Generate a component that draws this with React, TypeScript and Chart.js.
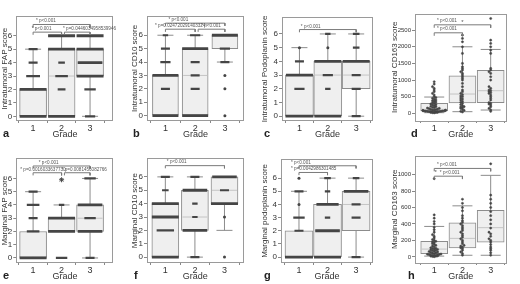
import React, { useEffect, useRef } from "react";
import { Chart, registerables } from "chart.js";
Chart.register(...registerables);

const FONT = "'Liberation Sans', Arial, sans-serif";
const BOX_EDGE = "#8c8c8c";
const BOX_FILL = "#efefef";
const MEDIAN = "#c4c4c4";
const DOT = "#454545";

const grades = [1, 2, 3];
const scoreTicks = [0, 1, 2, 3, 4, 5, 6];
const intraCd163Ticks = [0, 500, 1000, 1500, 2000, 2500];
const margCd163Ticks = [0, 200, 400, 600, 800, 1000];

// box statistics per grade: [min, q1, median, q3, max]
const statsA = [[0, 0, 0, 2, 5], [0, 0, 3, 5, 6], [0, 3, 4, 5, 6]];
const statsB = [[0, 0, 0, 3, 6], [0, 0, 3, 5, 6], [4, 5, 6, 6, 6]];
const statsC = [[0, 0, 0, 3, 5], [0, 0, 3, 4, 6], [0, 2, 3, 4, 6]];
const statsD = [[20, 70, 120, 300, 490], [50, 310, 580, 1130, 2000], [100, 320, 680, 1290, 1920]];
const statsE = [[0, 0, 0, 2, 5], [2, 2, 2, 3, 4], [0, 2, 3, 4, 6]];
const statsF = [[0, 0, 3, 4, 6], [0, 2, 3, 5, 6], [2, 4, 5, 6, 6]];
const statsG = [[0, 0, 0, 2, 5], [0, 0, 2, 4, 6], [0, 2, 4, 5, 6]];
const statsH = [[10, 40, 95, 190, 370], [20, 110, 225, 415, 620], [20, 180, 355, 565, 990]];

// score observations per grade: [score, number of cases]
const bandsA = [
  [[0, 30], [2, 20], [3, 9], [4, 5], [5, 5]],
  [[0, 22], [2, 4], [3, 8], [4, 3], [5, 20], [6, 20]],
  [[0, 6], [2, 7], [3, 20], [4, 18], [5, 20], [6, 20]],
];
const bandsB = [
  [[0, 30], [2, 5], [3, 20], [4, 6], [5, 5], [6, 2]],
  [[0, 20], [2, 5], [3, 5], [4, 5], [5, 20], [6, 6]],
  [[0, 1], [2, 1], [3, 1], [4, 5], [5, 6], [6, 22]],
];
const bandsC = [
  [[0, 30], [2, 6], [3, 20], [4, 5], [5, 1]],
  [[0, 20], [2, 2], [3, 6], [4, 20], [5, 1], [6, 2]],
  [[0, 5], [2, 5], [3, 5], [4, 20], [5, 3], [6, 3]],
];
const bandsE = [
  [[0, 30], [2, 8], [3, 5], [4, 8], [5, 5]],
  [[0, 7], [2, 20], [3, 20], [4, 2]],
  [[0, 5], [2, 18], [3, 7], [4, 18], [6, 7]],
];
const bandsF = [
  [[0, 30], [2, 12], [3, 25], [4, 20], [5, 3], [6, 5]],
  [[0, 5], [2, 18], [3, 2], [4, 2], [5, 18], [6, 5]],
  [[0, 1], [3, 1], [4, 20], [5, 5], [6, 18]],
];
const bandsG = [
  [[0, 30], [2, 5], [3, 7], [4, 1], [5, 5], [6, 1]],
  [[0, 20], [2, 18], [3, 2], [4, 16], [5, 2], [6, 3]],
  [[0, 5], [3, 5], [4, 5], [5, 18], [6, 3]],
];
// extreme outliers (grade, score)
const extremesE = [[2, 5.9]];

// CD163 continuous observations per grade
const valuesD = [
  [15, 20, 25, 30, 30, 35, 40, 40, 45, 50, 50, 55, 60, 60, 65, 70, 70, 75, 80, 85, 90, 95, 100, 100, 110, 120, 130, 140, 150, 160, 170, 180, 200, 210, 230, 250, 260, 280, 300, 320, 340, 360, 380, 400, 420, 450, 470, 500, 550, 600, 650, 700, 750, 800, 880, 950],
  [40, 60, 90, 120, 150, 170, 190, 200, 230, 260, 300, 330, 360, 400, 430, 460, 500, 520, 560, 600, 650, 700, 800, 900, 1000, 1050, 1100, 1150, 1200, 1250, 1300, 1350, 1400, 1500, 1800, 2000, 2150, 2250, 2350],
  [60, 100, 150, 200, 250, 280, 300, 320, 400, 450, 500, 550, 600, 620, 650, 680, 700, 750, 800, 1000, 1100, 1200, 1250, 1300, 1350, 1800, 1900, 2000, 2100, 2200, 2850],
];
const valuesH = [
  [3, 5, 8, 10, 12, 15, 18, 20, 22, 25, 28, 30, 32, 35, 40, 45, 50, 55, 60, 65, 70, 75, 80, 85, 90, 95, 100, 105, 110, 120, 130, 140, 150, 160, 170, 180, 190, 200, 210, 230, 250, 270, 300, 330, 360, 400, 430, 470, 510, 950],
  [20, 40, 60, 80, 100, 110, 120, 130, 140, 160, 180, 200, 220, 240, 260, 280, 300, 320, 340, 360, 380, 400, 420, 440, 470, 500, 560, 600, 650, 700],
  [20, 50, 80, 100, 120, 150, 180, 200, 220, 250, 280, 300, 350, 400, 450, 500, 550, 600, 650, 700, 750, 1130],
];

type Bracket = { x1: number; x2: number; y: number; drop: number };
type Note = { x: number; y: number; text: string; align?: CanvasTextAlign };

const bracketsA: Bracket[] = [{ x1: 1, x2: 3, y: 6.84, drop: 0.25 }, { x1: 1, x2: 2, y: 6.27, drop: 0.2 }, { x1: 2.1, x2: 3, y: 6.27, drop: 0.2 }];
const notesA: Note[] = [{ x: 1.1, y: 7.09, text: "* p<0.001" }, { x: 0.95, y: 6.52, text: "* p<0.001" }, { x: 2.05, y: 6.52, text: "* p=0.0446034958539946" }];
const bracketsB: Bracket[] = [{ x1: 1, x2: 3, y: 6.9, drop: 0.2 }, { x1: 1, x2: 2, y: 6.45, drop: 0.2 }, { x1: 2.1, x2: 3, y: 6.45, drop: 0.2 }];
const notesB: Note[] = [{ x: 1.1, y: 7.15, text: "* p<0.001" }, { x: 0.65, y: 6.68, text: "* p=0.024720291403324" }, { x: 2.2, y: 6.68, text: "* p<0.001" }];
const bracketsC: Bracket[] = [{ x1: 1, x2: 3, y: 6.32, drop: 0.2 }];
const notesC: Note[] = [{ x: 1.05, y: 6.55, text: "* p<0.001" }];
const bracketsD: Bracket[] = [{ x1: 1, x2: 3, y: 2660, drop: 90 }, { x1: 1, x2: 2, y: 2420, drop: 90 }];
const notesD: Note[] = [{ x: 1.1, y: 2770, text: "* p<0.001" }, { x: 2, y: 2720, text: "*", align: "center" }, { x: 1.1, y: 2530, text: "* p<0.001" }];
const bracketsE: Bracket[] = [{ x1: 1, x2: 3, y: 6.94, drop: 0.2 }, { x1: 1, x2: 2, y: 6.43, drop: 0.2 }, { x1: 2.1, x2: 3, y: 6.43, drop: 0.2 }];
const notesE: Note[] = [{ x: 1.2, y: 7.2, text: "* p<0.001" }, { x: 0.55, y: 6.69, text: "* p=0.0016033637730" }, { x: 2.0, y: 6.69, text: "* p=0.0081456082766" }];
const bracketsF: Bracket[] = [{ x1: 1, x2: 3, y: 6.84, drop: 0.2 }];
const notesF: Note[] = [{ x: 1.05, y: 7.1, text: "* p<0.001" }];
const bracketsG: Bracket[] = [{ x1: 1, x2: 3, y: 6.94, drop: 0.2 }, { x1: 1, x2: 2, y: 6.43, drop: 0.2 }];
const notesG: Note[] = [{ x: 0.72, y: 7.2, text: "* p<0.001" }, { x: 0.72, y: 6.69, text: "* p=0.0042986301485" }];
const bracketsH: Bracket[] = [{ x1: 1, x2: 3, y: 1074, drop: 35 }, { x1: 1, x2: 2, y: 980, drop: 35 }];
const notesH: Note[] = [{ x: 1.1, y: 1116, text: "* p<0.001" }, { x: 1.05, y: 1025, text: "*", align: "center" }, { x: 1.2, y: 1020, text: "* p<0.001" }];

type Panel = {
  letter: string; left: number; top: number; letterX: number;
  yTitle: string; yMin: number; yMax: number; yTicks: number[];
  xMin: number; xMax: number; axisW: number; padRight: number;
  boxW: number; tickFont: number; capR: number;
  stats: number[][]; bands?: number[][][]; values?: number[][]; extremes?: number[][];
  brackets: Bracket[]; notes: Note[];
};

const panels: Panel[] = [
  { letter: "a", left: 0, top: 0, letterX: 3, yTitle: "Intratumoral FAP score", yMin: -0.35, yMax: 7.45, yTicks: scoreTicks, xMin: 0.41, xMax: 3.83, axisW: 16, padRight: 1, boxW: 27, tickFont: 8, capR: 8, stats: statsA, bands: bandsA, brackets: bracketsA, notes: notesA },
  { letter: "b", left: 130, top: 0, letterX: 3, yTitle: "Intratumoral CD10 score", yMin: -0.4, yMax: 7.45, yTicks: scoreTicks, xMin: 0.38, xMax: 3.65, axisW: 17, padRight: 2, boxW: 26, tickFont: 8, capR: 8, stats: statsB, bands: bandsB, brackets: bracketsB, notes: notesB },
  { letter: "c", left: 260, top: 0, letterX: 4, yTitle: "Intratumoral Podoplanin score", yMin: -0.35, yMax: 7.25, yTicks: scoreTicks, xMin: 0.385, xMax: 3.6, axisW: 22, padRight: 1, boxW: 28, tickFont: 8, capR: 8, stats: statsC, bands: bandsC, brackets: bracketsC, notes: notesC },
  { letter: "d", left: 390, top: 0, letterX: 21, yTitle: "Intratumoral CD163 score", yMin: -230, yMax: 3000, yTicks: intraCd163Ticks, xMin: 0.32, xMax: 3.56, axisW: 25, padRight: 2, boxW: 27, tickFont: 6, capR: 10, stats: statsD, values: valuesD, brackets: bracketsD, notes: notesD },
  { letter: "e", left: 0, top: 142, letterX: 3, yTitle: "Marginal FAP score", yMin: -0.38, yMax: 7.52, yTicks: scoreTicks, xMin: 0.41, xMax: 3.83, axisW: 16, padRight: 1, boxW: 27, tickFont: 8, capR: 8, stats: statsE, bands: bandsE, extremes: extremesE, brackets: bracketsE, notes: notesE },
  { letter: "f", left: 130, top: 142, letterX: 4, yTitle: "Marginal CD10 score", yMin: -0.44, yMax: 7.39, yTicks: scoreTicks, xMin: 0.38, xMax: 3.65, axisW: 17, padRight: 2, boxW: 27, tickFont: 8, capR: 8, stats: statsF, bands: bandsF, brackets: bracketsF, notes: notesF },
  { letter: "g", left: 260, top: 142, letterX: 4, yTitle: "Marginal podoplanin score", yMin: -0.45, yMax: 7.47, yTicks: scoreTicks, xMin: 0.37, xMax: 3.6, axisW: 21, padRight: 2, boxW: 28, tickFont: 8, capR: 8, stats: statsG, bands: bandsG, brackets: bracketsG, notes: notesG },
  { letter: "h", left: 390, top: 142, letterX: 18, yTitle: "Marginal CD163 score", yMin: -74, yMax: 1231, yTicks: margCd163Ticks, xMin: 0.32, xMax: 3.56, axisW: 25, padRight: 2, boxW: 27, tickFont: 6, capR: 10, stats: statsH, values: valuesH, brackets: bracketsH, notes: notesH },
];

function swarm(values: number[], g: number, bin: number) {
  const counts = new Map<number, number>();
  return [...values].sort((a, b) => a - b).map((v) => {
    const b = Math.round(v / bin);
    const k = counts.get(b) ?? 0;
    counts.set(b, k + 1);
    const off = k === 0 ? 0 : (k % 2 ? -1 : 1) * Math.ceil(k / 2) * 0.06;
    return { x: g + Math.max(-0.4, Math.min(0.4, off)), y: v };
  });
}

function buildDatasets(p: Panel): any[] {
  const ds: any[] = [];
  const wh: any[] = [];
  p.stats.forEach((s, i) => {
    const g = grades[i];
    wh.push({ x: g, y: s[0] }, { x: g, y: s[4] }, { x: g, y: null });
  });
  ds.push({ type: "line", data: wh, borderColor: BOX_EDGE, borderWidth: 1, pointRadius: 0, spanGaps: false, order: 6 });
  const caps: any[] = [];
  p.stats.forEach((s, i) => {
    const g = grades[i];
    if (s[0] < s[1]) caps.push({ x: g, y: s[0] });
    if (s[4] > s[3]) caps.push({ x: g, y: s[4] });
  });
  ds.push({ type: "line", showLine: false, data: caps, pointStyle: "line", pointRadius: p.capR, pointBorderColor: BOX_EDGE, pointBorderWidth: 1, order: 5 });
  ds.push({
    type: "bar",
    data: p.stats.map((s, i) => ({ x: grades[i], y: [s[1], s[3]] })),
    backgroundColor: BOX_FILL, borderColor: BOX_EDGE, borderWidth: 1, borderSkipped: false,
    barThickness: p.boxW, order: 4,
  });
  ds.push({
    type: "line", showLine: false,
    data: p.stats.map((s, i) => ({ x: grades[i], y: s[2] })),
    pointStyle: "line", pointRadius: p.boxW / 2 - 1, pointBorderColor: MEDIAN, pointBorderWidth: 1, order: 3,
  });
  if (p.bands) {
    const data: any[] = [], style: any[] = [], radius: number[] = [], bw: number[] = [];
    p.bands.forEach((list, i) => {
      list.forEach(([score, count]) => {
        data.push({ x: grades[i], y: score });
        if (count <= 1) { style.push("circle"); radius.push(1.5); bw.push(0); }
        else {
          style.push("line");
          radius.push(Math.min(p.boxW / 2, 1.5 + count * 0.6));
          bw.push(count >= 15 ? 2.8 : 2.2);
        }
      });
    });
    ds.push({ type: "line", showLine: false, data, pointStyle: style, pointRadius: radius, pointBorderWidth: bw, pointBorderColor: DOT, pointBackgroundColor: DOT, order: 1 });
  }
  if (p.extremes) {
    ds.push({ type: "line", showLine: false, data: p.extremes.map(([g, v]) => ({ x: g, y: v })), pointStyle: "star", pointRadius: 2.5, pointBorderWidth: 1, pointBorderColor: DOT, order: 1 });
  }
  if (p.values) {
    const bin = (p.yMax - p.yMin) * 0.02;
    const data: any[] = [];
    p.values.forEach((vals, i) => data.push(...swarm(vals, grades[i], bin)));
    ds.push({ type: "line", showLine: false, data, pointStyle: "circle", pointRadius: 1.1, pointBorderWidth: 0.5, pointBorderColor: DOT, pointBackgroundColor: DOT, order: 1 });
  }
  p.brackets.forEach((b) => {
    ds.push({
      type: "line",
      data: [{ x: b.x1, y: b.y - b.drop }, { x: b.x1, y: b.y }, { x: b.x2, y: b.y }, { x: b.x2, y: b.y - b.drop }],
      borderColor: "#7a7a7a", borderWidth: 1, pointRadius: 0, order: 0, clip: false,
    });
  });
  return ds;
}

const framePlugin = {
  id: "frame",
  beforeDatasetsDraw(chart: any) {
    const { ctx, chartArea: a } = chart;
    ctx.save();
    ctx.strokeStyle = "#9a9a9a";
    ctx.lineWidth = 1;
    ctx.strokeRect(Math.round(a.left) + 0.5, Math.round(a.top) + 0.5, Math.round(a.right - a.left) - 1, Math.round(a.bottom - a.top) - 1);
    ctx.restore();
  },
};

function notesPlugin(notes: Note[]) {
  return {
    id: "notes",
    afterDatasetsDraw(chart: any) {
      const { ctx } = chart;
      const xs = chart.scales.x, ys = chart.scales.y;
      ctx.save();
      ctx.fillStyle = "#555";
      ctx.textBaseline = "middle";
      notes.forEach((n) => {
        ctx.font = n.text === "*" ? `6px ${FONT}` : `4.6px ${FONT}`;
        ctx.textAlign = n.align ?? "left";
        ctx.fillText(n.text, xs.getPixelForValue(n.x), ys.getPixelForValue(n.y));
      });
      ctx.restore();
    },
  };
}

function makeConfig(p: Panel): any {
  return {
    type: "bar",
    data: { datasets: buildDatasets(p) },
    options: {
      animation: false, responsive: false, devicePixelRatio: 1, events: [],
      layout: { padding: { top: 1, right: p.padRight, bottom: 2, left: 0 } },
      plugins: { legend: { display: false }, tooltip: { enabled: false } },
      scales: {
        x: {
          type: "linear", min: p.xMin, max: p.xMax, offset: false,
          afterBuildTicks: (s: any) => { s.ticks = grades.map((v) => ({ value: v })); },
          afterFit: (s: any) => { s.height = 19; },
          grid: { drawOnChartArea: false, drawTicks: true, tickLength: 2, color: "#888" },
          border: { display: false },
          ticks: { font: { family: FONT, size: 9 }, color: "#333", padding: 0, maxRotation: 0, autoSkip: false, callback: (v: any) => String(v) },
          title: { display: true, text: "Grade", font: { family: FONT, size: 9 }, color: "#333", padding: { top: 0, bottom: 0 } },
        },
        y: {
          type: "linear", min: p.yMin, max: p.yMax,
          afterBuildTicks: (s: any) => { s.ticks = p.yTicks.map((v) => ({ value: v })); },
          afterFit: (s: any) => { s.width = p.axisW; },
          grid: { drawOnChartArea: false, drawTicks: true, tickLength: 3, color: "#888" },
          border: { display: false },
          ticks: { font: { family: FONT, size: p.tickFont }, color: "#333", padding: 1, autoSkip: false, callback: (v: any) => String(v) },
          title: { display: true, text: p.yTitle, font: { family: FONT, size: 8 }, color: "#333", padding: 0 },
        },
      },
    },
    plugins: [framePlugin, notesPlugin(p.notes)],
  };
}

function PanelChart({ p }: { p: Panel }) {
  const ref = useRef<HTMLCanvasElement>(null);
  useEffect(() => {
    const chart = new Chart(ref.current as HTMLCanvasElement, makeConfig(p));
    return () => chart.destroy();
  }, [p]);
  return (
    <div style={{ position: "absolute", left: p.left, top: p.top, width: 130, height: 142 }}>
      <canvas ref={ref} width={130} height={142} style={{ display: "block", width: 130, height: 142 }} />
      <span style={{ position: "absolute", left: p.letterX, top: 127, font: `bold 11px ${FONT}`, color: "#222", lineHeight: "12px" }}>{p.letter}</span>
    </div>
  );
}

export default function App() {
  return (
    <div style={{ position: "fixed", left: 0, top: 0, width: 520, height: 284, background: "#fff", overflow: "hidden" }}>
      {panels.map((p) => <PanelChart key={p.letter} p={p} />)}
    </div>
  );
}
